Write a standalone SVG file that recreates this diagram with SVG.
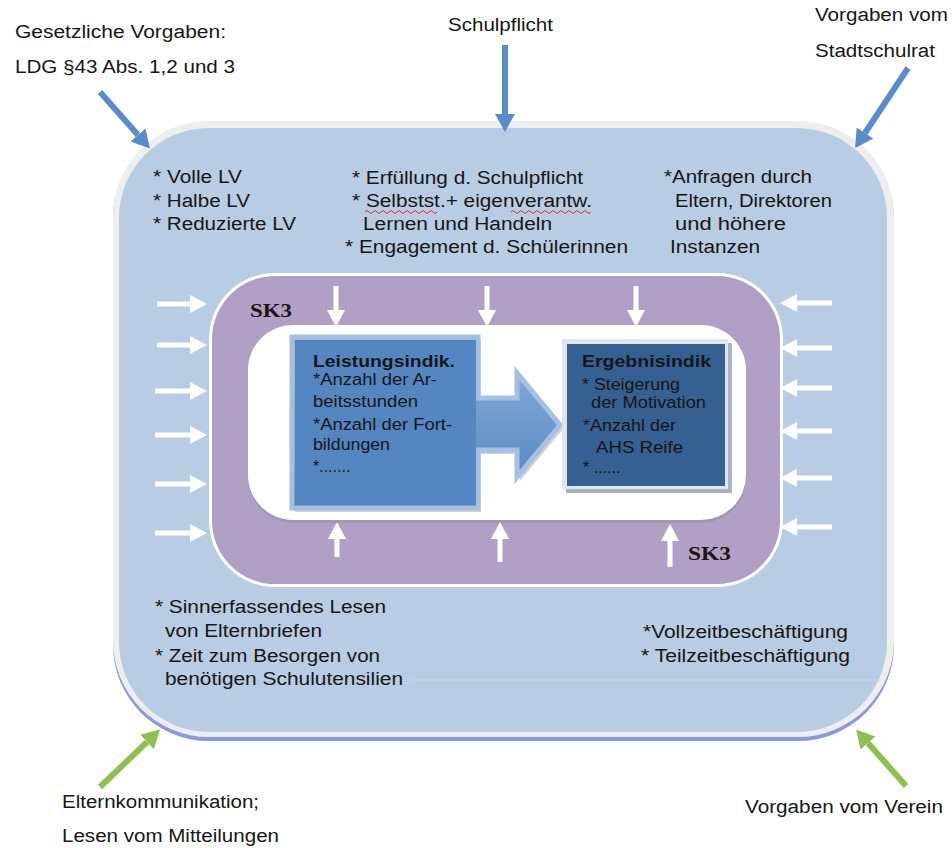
<svg xmlns="http://www.w3.org/2000/svg" width="952" height="848" viewBox="0 0 952 848">
<style>
text{font-family:"Liberation Sans",Arial,sans-serif;fill:#161616;}
.t{font-size:18px;}
.b{font-size:16px;}
.bh{font-size:16px;font-weight:bold;}
.sk{font-family:"Liberation Serif","Times New Roman",serif;font-size:19px;font-weight:bold;fill:#1e1414;}
.wa{stroke:#ffffff;stroke-width:5;fill:none;}
.ba{stroke:#5b8cc7;stroke-width:6;fill:none;}
.ga{stroke:#8cc152;stroke-width:6;fill:none;}
</style>
<defs>
<marker id="mw" markerUnits="userSpaceOnUse" markerWidth="20" markerHeight="20" refX="0" refY="9" orient="auto"><path d="M0,0 L17,9 L0,18 Z" fill="#ffffff"/></marker>
<marker id="mb" markerUnits="userSpaceOnUse" markerWidth="22" markerHeight="22" refX="0" refY="10" orient="auto"><path d="M0,0 L18,10 L0,20 Z" fill="#5b8cc7"/></marker>
<marker id="mg" markerUnits="userSpaceOnUse" markerWidth="22" markerHeight="22" refX="0" refY="10" orient="auto"><path d="M0,0 L18,10 L0,20 Z" fill="#8cc152"/></marker>
<linearGradient id="ag" x1="0" y1="0" x2="0" y2="1"><stop offset="0" stop-color="#8fb2de"/><stop offset="1" stop-color="#4f81bd"/></linearGradient>
</defs>

<g id="outer">
<rect x="113" y="122" width="781" height="619" rx="96" fill="#8a98e0"/>
<rect x="113" y="121" width="781" height="616" rx="96" fill="#eeeeee"/>
<rect x="119" y="128" width="768" height="604" rx="90" fill="#b8cce4"/>
<line x1="410" y1="680" x2="880" y2="680" stroke="#d4d4e6" stroke-width="1"/>
</g>

<g id="ring">
<rect x="209" y="273" width="574" height="314" rx="66" fill="#ffffff"/>
<rect x="212" y="276" width="568" height="308" rx="63" fill="#b1a0c6"/>
<rect x="248" y="327" width="498" height="196" rx="45" fill="#8a8fa0" opacity="0.5"/>
<rect x="248" y="325" width="498" height="195" rx="45" fill="#ffffff"/>
<text class="sk" x="250" y="317" textLength="42" lengthAdjust="spacingAndGlyphs">SK3</text>
<text class="sk" x="688" y="560" textLength="43" lengthAdjust="spacingAndGlyphs">SK3</text>
</g>

<g id="leistung">
<path d="M295,341 H481 V402 H520 V377 L563,429 L520,481 V454 H481 V512 H295 Z" fill="#a3a7b0" opacity="0.5"/>
<path d="M292,337 H478 V398 H517 V373 L560,425 L517,477 V450 H478 V508 H292 Z" fill="url(#ag)" stroke="#a6c0e2" stroke-width="5" stroke-linejoin="miter"/>
<rect x="295" y="340" width="181" height="165" fill="#5586c2"/>
<text class="bh" x="313" y="367" textLength="142" lengthAdjust="spacingAndGlyphs">Leistungsindik.</text>
<text class="b" x="313" y="385" textLength="124" lengthAdjust="spacingAndGlyphs">*Anzahl der Ar-</text>
<text class="b" x="313" y="407" textLength="105" lengthAdjust="spacingAndGlyphs">beitsstunden</text>
<text class="b" x="313" y="430" textLength="139" lengthAdjust="spacingAndGlyphs">*Anzahl der Fort-</text>
<text class="b" x="313" y="450" textLength="77" lengthAdjust="spacingAndGlyphs">bildungen</text>
<text class="b" x="313" y="472">*.......</text>
</g>

<g id="ergebnis">
<rect x="566" y="343" width="166" height="150" fill="#aab3c0"/>
<rect x="562" y="339" width="166" height="150" fill="#dfe5ec"/>
<rect x="567" y="344" width="158" height="142" fill="#365f92"/>
<text class="bh" x="582" y="367" textLength="129" lengthAdjust="spacingAndGlyphs">Ergebnisindik</text>
<text class="b" x="582" y="390" textLength="98" lengthAdjust="spacingAndGlyphs">* Steigerung</text>
<text class="b" x="591" y="408" textLength="115" lengthAdjust="spacingAndGlyphs">der Motivation</text>
<text class="b" x="583" y="431" textLength="93" lengthAdjust="spacingAndGlyphs">*Anzahl der</text>
<text class="b" x="596" y="453" textLength="87" lengthAdjust="spacingAndGlyphs">AHS Reife</text>
<text class="b" x="583" y="473">* ......</text>
</g>

<g id="texts-inside">
<text class="t" x="153" y="183" textLength="89" lengthAdjust="spacingAndGlyphs">* Volle LV</text>
<text class="t" x="153" y="207" textLength="97" lengthAdjust="spacingAndGlyphs">* Halbe LV</text>
<text class="t" x="153" y="230" textLength="143" lengthAdjust="spacingAndGlyphs">* Reduzierte LV</text>
<text class="t" x="352" y="184" textLength="231" lengthAdjust="spacingAndGlyphs">* Erfüllung d. Schulpflicht</text>
<text class="t" x="352" y="207" textLength="240" lengthAdjust="spacingAndGlyphs">* Selbstst.+ eigenverantw.</text>
<path d="M365,212 q2,-3 4,0 t4,0 t4,0 t4,0 t4,0 t4,0 t4,0 t4,0 t4,0 t4,0 t4,0 t4,0 t4,0 t4,0 t4,0 t4,0 t4,0 t4,0" fill="none" stroke="#e03030" stroke-width="1"/>
<path d="M511,212 q2,-3 4,0 t4,0 t4,0 t4,0 t4,0 t4,0 t4,0 t4,0 t4,0 t4,0 t4,0 t4,0 t4,0 t4,0 t4,0 t4,0 t4,0 t4,0 t4,0 t4,0" fill="none" stroke="#e03030" stroke-width="1"/>
<text class="t" x="363" y="230" textLength="189" lengthAdjust="spacingAndGlyphs">Lernen und Handeln</text>
<text class="t" x="345" y="253" textLength="283" lengthAdjust="spacingAndGlyphs">* Engagement d. Schülerinnen</text>
<text class="t" x="664" y="183" textLength="148" lengthAdjust="spacingAndGlyphs">*Anfragen durch</text>
<text class="t" x="675" y="207" textLength="157" lengthAdjust="spacingAndGlyphs">Eltern, Direktoren</text>
<text class="t" x="675" y="230" textLength="111" lengthAdjust="spacingAndGlyphs">und  höhere</text>
<text class="t" x="670" y="253" textLength="90" lengthAdjust="spacingAndGlyphs">Instanzen</text>
<text class="t" x="155" y="613" textLength="231" lengthAdjust="spacingAndGlyphs">* Sinnerfassendes Lesen</text>
<text class="t" x="165" y="637" textLength="157" lengthAdjust="spacingAndGlyphs">von Elternbriefen</text>
<text class="t" x="155" y="662" textLength="225" lengthAdjust="spacingAndGlyphs">* Zeit zum Besorgen von</text>
<text class="t" x="165" y="685" textLength="238" lengthAdjust="spacingAndGlyphs">benötigen Schulutensilien</text>
<text class="t" x="643" y="638" textLength="205" lengthAdjust="spacingAndGlyphs">*Vollzeitbeschäftigung</text>
<text class="t" x="641" y="662" textLength="209" lengthAdjust="spacingAndGlyphs">* Teilzeitbeschäftigung</text>
</g>

<g id="labels">
<text class="t" x="15" y="38" textLength="211" lengthAdjust="spacingAndGlyphs">Gesetzliche Vorgaben:</text>
<text class="t" x="15" y="73" textLength="220" lengthAdjust="spacingAndGlyphs">LDG §43 Abs. 1,2 und 3</text>
<text class="t" x="448" y="31" textLength="105" lengthAdjust="spacingAndGlyphs">Schulpflicht</text>
<text class="t" x="815" y="21" textLength="133" lengthAdjust="spacingAndGlyphs">Vorgaben vom</text>
<text class="t" x="815" y="57" textLength="120" lengthAdjust="spacingAndGlyphs">Stadtschulrat</text>
<text class="t" x="62" y="808" textLength="197" lengthAdjust="spacingAndGlyphs">Elternkommunikation;</text>
<text class="t" x="62" y="842" textLength="217" lengthAdjust="spacingAndGlyphs">Lesen vom Mitteilungen</text>
<text class="t" x="745" y="813" textLength="198" lengthAdjust="spacingAndGlyphs">Vorgaben vom Verein</text>
</g>

<g id="connectors">
<line class="ba" x1="100" y1="92" x2="138" y2="135" marker-end="url(#mb)"/>
<line class="ba" x1="505" y1="45" x2="505" y2="114" marker-end="url(#mb)"/>
<line class="ba" x1="908" y1="68" x2="865" y2="133" marker-end="url(#mb)"/>
<line class="ga" x1="100" y1="787" x2="147" y2="742" marker-end="url(#mg)"/>
<line class="ga" x1="906" y1="786" x2="868" y2="743" marker-end="url(#mg)"/>

<line class="wa" x1="157" y1="304" x2="190" y2="304" marker-end="url(#mw)"/>
<line class="wa" x1="157" y1="345" x2="190" y2="345" marker-end="url(#mw)"/>
<line class="wa" x1="155" y1="391" x2="190" y2="391" marker-end="url(#mw)"/>
<line class="wa" x1="155" y1="435" x2="190" y2="435" marker-end="url(#mw)"/>
<line class="wa" x1="155" y1="484" x2="190" y2="484" marker-end="url(#mw)"/>
<line class="wa" x1="155" y1="533" x2="190" y2="533" marker-end="url(#mw)"/>

<line class="wa" x1="832" y1="303" x2="797" y2="303" marker-end="url(#mw)"/>
<line class="wa" x1="832" y1="348" x2="797" y2="348" marker-end="url(#mw)"/>
<line class="wa" x1="832" y1="388" x2="797" y2="388" marker-end="url(#mw)"/>
<line class="wa" x1="832" y1="431" x2="797" y2="431" marker-end="url(#mw)"/>
<line class="wa" x1="832" y1="478" x2="797" y2="478" marker-end="url(#mw)"/>
<line class="wa" x1="832" y1="527" x2="797" y2="527" marker-end="url(#mw)"/>

<line class="wa" x1="336" y1="286" x2="336" y2="310" marker-end="url(#mw)"/>
<line class="wa" x1="487" y1="286" x2="487" y2="310" marker-end="url(#mw)"/>
<line class="wa" x1="636" y1="286" x2="636" y2="310" marker-end="url(#mw)"/>

<line class="wa" x1="337" y1="557" x2="337" y2="539" marker-end="url(#mw)"/>
<line class="wa" x1="500" y1="562" x2="500" y2="539" marker-end="url(#mw)"/>
<line class="wa" x1="670" y1="567" x2="670" y2="541" marker-end="url(#mw)"/>
</g>
</svg>
